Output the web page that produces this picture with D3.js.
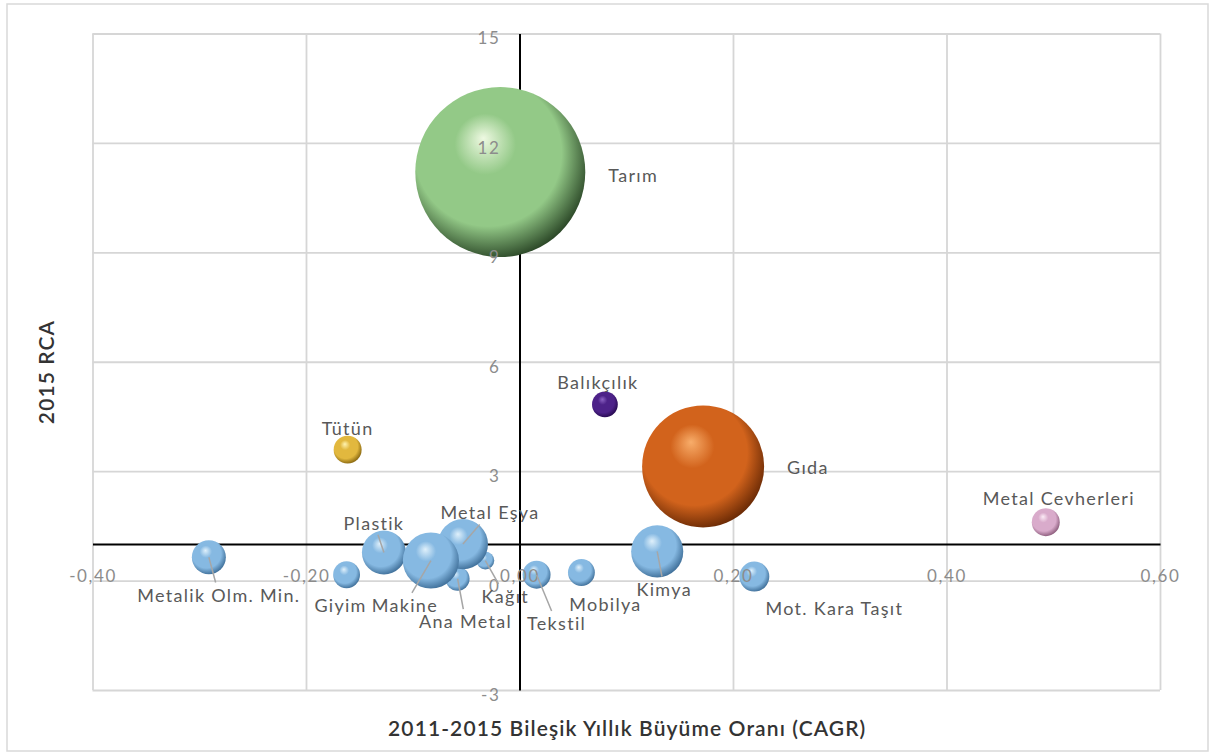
<!DOCTYPE html>
<html><head><meta charset="utf-8">
<script src="https://cdn.jsdelivr.net/npm/d3@7"></script>
<style>
body{margin:0;background:#fff}
svg{display:block}
text{font-family:Lato,"Open Sans",sans-serif}
</style>
</head><body>
<svg id="chart" width="1215" height="754"></svg>
<script>
// ---------- data ----------
const sectors = ["Tarım","Gıda","Kağıt","Ana Metal","Metal Eşya","Plastik","Makine","Metalik Olm. Min.","Giyim","Tütün","Balıkçılık","Tekstil","Mobilya","Kimya","Mot. Kara Taşıt","Metal Cevherleri"];
const cagr   = [-0.018, 0.172, -0.032, -0.058, -0.053, -0.127, -0.083, -0.291, -0.162, -0.161, 0.080, 0.016, 0.058, 0.129, 0.220, 0.493];
const rca    = [11.2, 3.13, 0.55, 0.05, 1.0, 0.77, 0.55, 0.64, 0.16, 3.59, 4.83, 0.16, 0.22, 0.80, 0.11, 1.60];
const bubbleSize = [100, 51.5, 1.1, 2.0, 8.7, 6.7, 10.9, 4.0, 2.5, 2.7, 2.3, 2.7, 2.5, 9.4, 3.1, 2.7];
const xTicks = [-0.4, -0.2, 0, 0.2, 0.4, 0.6];
const yTicks = [-3, 0, 3, 6, 9, 12, 15];
const xTitle = "2011-2015 Bileşik Yıllık Büyüme Oranı (CAGR)";
const yTitle = "2015 RCA";

// ---------- styles / layout ----------
const palette = {
  blue:   ["#dff0fb", "#86b9e2", "#3e6e98"],
  green:  ["#eef9e2", "#93c987", "#2b4727"],
  orange: ["#f8ad6a", "#d2631c", "#6a2a05"],
  purple: ["#8c63c4", "#4d2289", "#26094f"],
  yellow: ["#fff3b0", "#e2b83e", "#86650f"],
  pink:   ["#fcecf6", "#d9abcb", "#8a5a7a"]
};
const sectorColor = {"Tarım":"green","Gıda":"orange","Balıkçılık":"purple","Tütün":"yellow","Metal Cevherleri":"pink"};
// label offsets from bubble centre [dx, dy, anchor, leader]
const labelLayout = {
  "Tarım":[108,4,"start",false], "Gıda":[84,1,"start",false], "Balıkçılık":[-7,-22,"middle",false],
  "Tütün":[0,-21,"middle",false], "Metal Cevherleri":[13,-24,"middle",false], "Mot. Kara Taşıt":[80,32,"middle",false],
  "Kimya":[7,38,"middle",true], "Mobilya":[24,32,"middle",false], "Tekstil":[20,49,"middle",true],
  "Ana Metal":[8,43,"middle",true], "Kağıt":[20,36,"middle",true], "Makine":[-26,45,"middle",true],
  "Giyim":[-6,31,"middle",false], "Plastik":[-10,-29,"middle",true], "Metal Eşya":[27,-31,"middle",true],
  "Metalik Olm. Min.":[10,38,"middle",true]
};

const W = 1215, H = 754;
const plot = {left: 92.5, right: 1160, top: 33.5, bottom: 690};
const svg = d3.select("#chart");

const x = d3.scaleLinear().domain([-0.4, 0.6]).range([plot.left, plot.right]);
const y = d3.scaleLinear().domain([-3, 15]).range([plot.bottom, plot.top]);
const r = d3.scaleSqrt().domain([0, 100]).range([0, 85]);

const loc = d3.formatLocale({decimal:",", thousands:".", grouping:[3], currency:["",""], minus:"-"});
const fmtX = loc.format(".2f");

// outer frame
svg.append("rect").attr("x",7).attr("y",4).attr("width",W-14).attr("height",H-7)
  .attr("fill","#fff").attr("stroke","#d9d9d9").attr("stroke-width",1.5);

// gradients
const defs = svg.append("defs");
Object.entries(palette).forEach(([k, c]) => {
  const g = defs.append("radialGradient").attr("id","g-"+k)
    .attr("cx","0.44").attr("cy","0.42").attr("r","0.6").attr("fx","0.4").attr("fy","0.3");
  g.append("stop").attr("offset","0").attr("stop-color",c[0]);
  g.append("stop").attr("offset","0.3").attr("stop-color",c[1]);
  g.append("stop").attr("offset","0.72").attr("stop-color",c[1]);
  g.append("stop").attr("offset","1").attr("stop-color",c[2]);
});

// gridlines
const gx = svg.append("g").attr("transform",`translate(0,${plot.bottom})`)
  .call(d3.axisBottom(x).tickValues(xTicks).tickSize(-(plot.bottom-plot.top)).tickFormat(""));
const gy = svg.append("g").attr("transform",`translate(${plot.left},0)`)
  .call(d3.axisLeft(y).tickValues(yTicks).tickSize(-(plot.right-plot.left)).tickFormat(""));
[gx, gy].forEach(g => {
  g.select(".domain").remove();
  g.selectAll("line").attr("stroke","#d6d6d6").attr("stroke-width",1.8);
});

// main axis lines (vertical at x=0, horizontal crossing at RCA = 1)
const ax = svg.append("g").attr("transform",`translate(0,${y(1)})`)
  .call(d3.axisBottom(x).tickValues([]).tickSizeOuter(0));
ax.select(".domain").attr("stroke","#000").attr("stroke-width",2);
const ay = svg.append("g").attr("transform",`translate(${x(0)},0)`)
  .call(d3.axisLeft(y).tickValues([]).tickSizeOuter(0));
ay.select(".domain").attr("stroke","#000").attr("stroke-width",2);

// bubbles
const data = sectors.map((s, i) => ({name: s, cx: cagr[i], ry: rca[i], size: bubbleSize[i]}));
svg.append("g").selectAll("circle").data(data).join("circle")
  .attr("cx", d => x(d.cx)).attr("cy", d => y(d.ry)).attr("r", d => r(d.size))
  .attr("fill", d => `url(#g-${sectorColor[d.name] || "blue"})`);

// tick labels (drawn above bubbles, as in the reference)
const tickX = svg.append("g").attr("transform",`translate(0,${y(0) - 4})`)
  .call(d3.axisBottom(x).tickValues(xTicks).tickSize(0).tickPadding(0).tickFormat(fmtX));
tickX.select(".domain").remove();
tickX.selectAll("text").attr("dy","0.32em").attr("fill","#8c8c8c")
  .style("font-size","17px").style("letter-spacing","1.6px").style("font-family","Lato, 'Open Sans', sans-serif");
const tickY = svg.append("g").attr("transform",`translate(${x(0)},5)`)
  .call(d3.axisLeft(y).tickValues(yTicks).tickSize(0).tickPadding(19).tickFormat(d => String(d)));
tickY.select(".domain").remove();
tickY.selectAll("text").attr("fill","#8c8c8c")
  .style("font-size","17px").style("letter-spacing","1.6px").style("font-family","Lato, 'Open Sans', sans-serif");

// labels
const labG = svg.append("g");
const labels = labG.selectAll("text").data(data).join("text")
  .attr("x", d => x(d.cx) + labelLayout[d.name][0])
  .attr("y", d => y(d.ry) + labelLayout[d.name][1])
  .attr("dy","0.35em")
  .attr("text-anchor", d => labelLayout[d.name][2])
  .attr("fill","#595959").style("font-size","18px").style("letter-spacing","1.3px")
  .text(d => d.name);

// leader lines
const leadG = svg.insert("g", () => labG.node());
labels.each(function(d) {
  if (!labelLayout[d.name][3]) return;
  const b = this.getBBox();
  const x0 = x(d.cx), y0 = y(d.ry);
  const lx = b.x + b.width/2, ly = b.y + b.height/2;
  const dx = lx - x0, dy = ly - y0;
  const hw = b.width/2 + 2, hh = b.height/2 + 1;
  const t = 1 - Math.min(hw/Math.abs(dx || 1e-6), hh/Math.abs(dy || 1e-6));
  if (t <= 0) return;
  leadG.append("line").attr("x1", x0).attr("y1", y0)
    .attr("x2", x0 + dx*t).attr("y2", y0 + dy*t)
    .attr("stroke","#a6a6a6").attr("stroke-width",1.5);
});

// axis titles
svg.append("text").attr("x", (plot.left+plot.right)/2 + 1).attr("y", 729).attr("dy","0.35em")
  .attr("text-anchor","middle").attr("fill","#333").style("font-size","21px").style("font-weight","600")
  .style("letter-spacing","1.1px").text(xTitle);
svg.append("text").attr("transform","translate(47,372) rotate(-90)").attr("dy","0.35em")
  .attr("text-anchor","middle").attr("fill","#333").style("font-size","21px").style("font-weight","600")
  .style("letter-spacing","1.1px").text(yTitle);
</script>
</body></html>
